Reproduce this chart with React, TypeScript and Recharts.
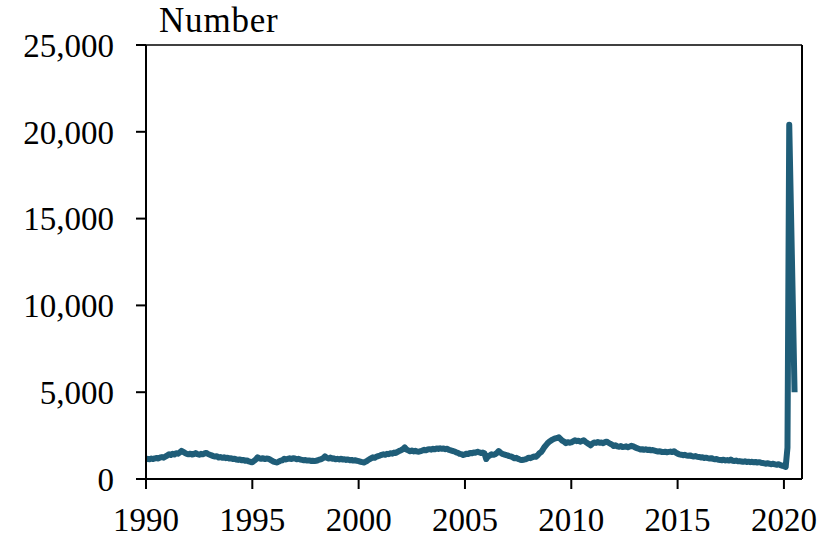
import { LineChart, Line, XAxis, YAxis, ReferenceLine } from "recharts";

const START_YEAR = 1990;

// monthly values, Jan 1990 onwards
const values1990s = [
  1130, 1160, 1140, 1180, 1150, 1190, 1210, 1180, 1240, 1260, 1230, 1300,
  1350, 1420, 1380, 1450, 1410, 1480, 1460, 1530, 1620, 1560, 1500, 1450,
  1420, 1460, 1410, 1440, 1490, 1430, 1400, 1450, 1420, 1470, 1500, 1440,
  1400, 1360, 1320, 1290, 1310, 1240, 1260, 1220, 1250, 1200, 1230, 1180,
  1190, 1150, 1170, 1120, 1100, 1130, 1080, 1100, 1050, 1070, 1010, 980,
  960, 1050, 1130, 1250, 1190, 1160, 1200, 1150, 1180, 1170, 1120, 1060,
  1000, 970, 950, 1010, 1060, 1080, 1170, 1130, 1160, 1190, 1150, 1200,
  1180, 1140, 1160, 1120, 1100, 1080, 1090, 1060, 1070, 1040, 1050, 1030,
  1050, 1080, 1120, 1150, 1200, 1300, 1220, 1180, 1230, 1170, 1190, 1140,
  1160, 1130, 1170, 1120, 1140, 1100, 1120, 1080, 1100, 1060, 1080, 1050
];

const values2000s = [
  1030, 990, 970, 950, 1000, 1060, 1130, 1190, 1250, 1220, 1280, 1320,
  1350, 1390, 1420, 1400, 1450, 1430, 1480, 1460, 1520, 1500, 1560, 1620,
  1660, 1720, 1820, 1700, 1650, 1600, 1640, 1590, 1620, 1580, 1570, 1600,
  1640, 1680, 1650, 1700, 1720, 1690, 1740, 1710, 1760, 1730, 1770, 1740,
  1760, 1720, 1740, 1680, 1650, 1610, 1590, 1540, 1510, 1450, 1430, 1380,
  1420, 1460, 1440, 1500, 1480, 1530, 1510, 1570, 1540, 1500, 1520, 1480,
  1150, 1300, 1350, 1420, 1390, 1430, 1500, 1610, 1520, 1450, 1420, 1380,
  1360, 1320, 1300, 1250, 1190, 1220, 1160, 1120, 1090, 1110, 1130, 1170,
  1230, 1200, 1250, 1300, 1280, 1360, 1480, 1550, 1700, 1860, 1980, 2100,
  2180, 2250, 2300, 2340, 2360, 2400, 2300, 2200, 2150, 2060, 2120, 2090
];

const values2010s = [
  2110, 2170, 2230, 2180, 2200, 2150, 2190, 2230, 2140, 2070, 2000, 1940,
  2050, 2100, 2080, 2130, 2090, 2100, 2060, 2120, 2150, 2090, 2030, 1980,
  1900, 1940, 1880, 1860, 1900, 1840, 1850, 1880, 1830, 1870, 1910, 1880,
  1820, 1780, 1740, 1700, 1720, 1680, 1710, 1670, 1690, 1650, 1670, 1640,
  1610, 1580, 1600, 1560, 1550, 1570, 1540, 1560, 1580, 1550, 1600, 1520,
  1460, 1420, 1400, 1370, 1390, 1350, 1340, 1360, 1320, 1300, 1320, 1280,
  1270, 1240, 1250, 1210, 1230, 1200, 1180, 1200, 1160, 1140, 1150, 1110,
  1100, 1080, 1110, 1070, 1090, 1060, 1120, 1050, 1040, 1060, 1020, 1030,
  1010, 990, 1020, 980, 1000, 970, 990, 960, 980, 950, 970, 940,
  920, 900, 880, 910, 870, 850, 880, 840, 820, 850, 800, 760
];

const values2020 = [740, 700, 1800, 20400, 15300, 10200, 5000];

const xTicks = [1990, 1995, 2000, 2005, 2010, 2015, 2020];
const yTicks = [0, 5000, 10000, 15000, 20000, 25000];

const series = [...values1990s, ...values2000s, ...values2010s, ...values2020];
const data = series.map((value, i) => ({ date: START_YEAR + i / 12, value }));

const FONT = "'Liberation Serif', 'Times New Roman', serif";
const X_MAX = 2020.85;

export default function App() {
  const tickStyle = { fill: "#000", fontSize: 33, fontFamily: FONT };
  return (
    <div style={{ position: "fixed", left: 0, top: 0, width: 833, height: 537, background: "#fff" }}>
      <div
        style={{
          position: "absolute",
          left: 159,
          top: 3,
          fontSize: 35,
          letterSpacing: 0.8,
          lineHeight: 1,
          fontFamily: FONT,
          color: "#000"
        }}
      >
        Number
      </div>
      <LineChart
        width={833}
        height={537}
        data={data}
        margin={{ top: 45, right: 31, bottom: 0, left: 0 }}
      >
        <XAxis
          dataKey="date"
          type="number"
          domain={[START_YEAR, X_MAX]}
          ticks={xTicks}
          interval={0}
          allowDataOverflow
          height={58}
          tickSize={10}
          tickMargin={19}
          axisLine={{ stroke: "#000", strokeWidth: 2 }}
          tickLine={{ stroke: "#000", strokeWidth: 2 }}
          tick={tickStyle}
        />
        <YAxis
          type="number"
          domain={[0, 25000]}
          ticks={yTicks}
          interval={0}
          width={146}
          tickSize={10}
          tickMargin={22}
          tickFormatter={(v: number) => v.toLocaleString("en-US")}
          axisLine={{ stroke: "#000", strokeWidth: 2 }}
          tickLine={{ stroke: "#000", strokeWidth: 2 }}
          tick={tickStyle}
        />
        <ReferenceLine y={25000} stroke="#000" strokeWidth={1.5} />
        <ReferenceLine x={X_MAX} stroke="#000" strokeWidth={2} />
        <Line
          type="linear"
          dataKey="value"
          stroke="#1f5d78"
          strokeWidth={6}
          strokeLinejoin="round"
          dot={false}
          isAnimationActive={false}
        />
      </LineChart>
    </div>
  );
}
